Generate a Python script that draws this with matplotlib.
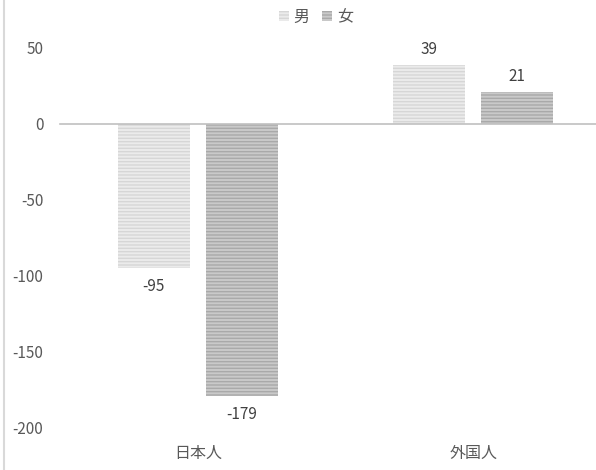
import numpy as np
import matplotlib
matplotlib.use("Agg")
import matplotlib.pyplot as plt
from matplotlib.lines import Line2D
from matplotlib.patches import Patch

plt.rcParams['font.family'] = ['Noto Sans CJK JP', 'DejaVu Sans']
plt.rcParams['hatch.linewidth'] = 1.0

# data
categories = ['日本人', '外国人']
series = ['男', '女']
male = [-95, 39]
female = [-179, 21]
yticks = [50, 0, -50, -100, -150, -200]

face = ['#ebebeb', '#c9c9c9']
stripe = ['#d6d6d6', '#a9a9a9']

fig = plt.figure(figsize=(5.96, 4.70), dpi=100)
ax = fig.add_axes([60/596, 42/470, 551/596, 380/470])

x = np.arange(len(categories))
w = 0.261
off = 0.16
for i, vals in enumerate([male, female]):
    pos = x + (-off if i == 0 else off)
    bars = ax.bar(pos, vals, w, color=face[i], edgecolor=stripe[i],
                  hatch='-----', linewidth=0, zorder=2)
    for b, v in zip(bars, vals):
        if v >= 0:
            ax.annotate(f'{v}', (b.get_x() + b.get_width()/2, v), xytext=(0, 5),
                        textcoords='offset points', ha='center', va='bottom',
                        fontsize=11, color='#404040')
        else:
            ax.annotate(f'{v}', (b.get_x() + b.get_width()/2, v), xytext=(0, -7),
                        textcoords='offset points', ha='center', va='top',
                        fontsize=11, color='#404040')

ax.set_xlim(-0.5, 1.5)
ax.set_ylim(-200, 50)
ax.set_yticks(yticks)
ax.set_yticklabels([str(t) for t in yticks], fontsize=11, color='#595959')
ax.set_xticks(x)
ax.set_xticklabels(categories, fontsize=11.5, color='#595959')
ax.tick_params(length=0)
ax.tick_params(axis='y', pad=12)
ax.tick_params(axis='x', pad=12)
for s in ax.spines.values():
    s.set_visible(False)
ax.plot([-0.5, 1.6], [0, 0], color='#c0c0c0', linewidth=1.2, zorder=3, clip_on=False)

handles = [Patch(facecolor=face[i], edgecolor=stripe[i], hatch='-----', linewidth=0)
           for i in range(2)]
fig.legend(handles, series, loc='center', bbox_to_anchor=(316/596, 1 - 17/470),
           ncol=2, frameon=False, fontsize=11.5, handlelength=0.6, handleheight=0.6,
           handletextpad=0.3, columnspacing=0.8, labelcolor='#595959')

fig.add_artist(Line2D([4/596, 4/596], [0, 1], color='#d9d9d9', linewidth=1.5))

fig.savefig('out.png', dpi=100)
